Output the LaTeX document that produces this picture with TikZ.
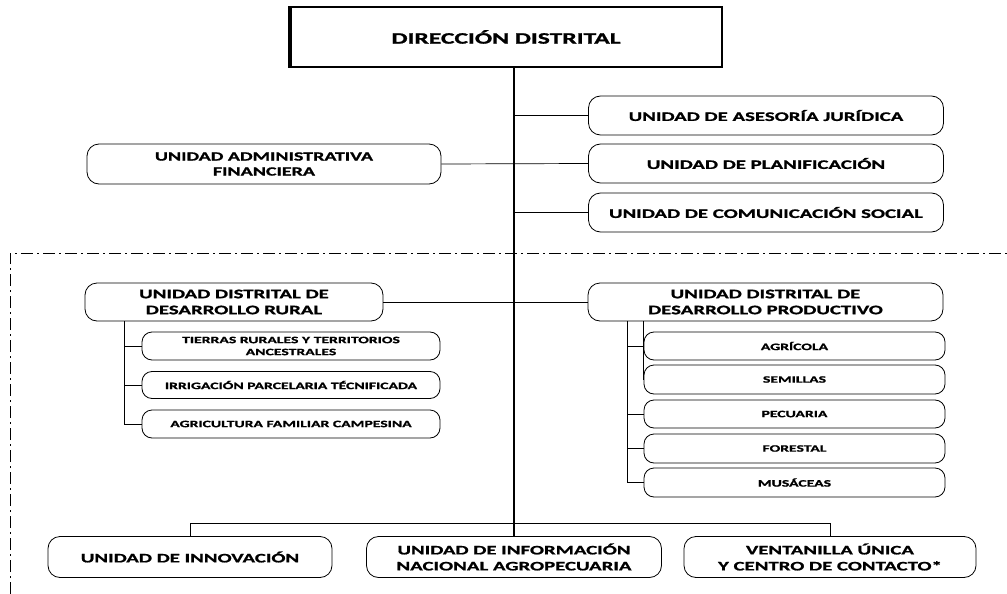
\documentclass[tikz,border=0pt]{standalone}
\usepackage{fontspec}
\setmainfont{Carlito}[FakeStretch=1.6,BoldFeatures={FakeBold=1.2}]
\usepackage{tikz}
\usetikzlibrary{calc}
\tikzset{
  unidad/.style={draw,rounded corners=12pt,align=center,inner sep=0pt,line width=0.8pt,
    font=\bfseries\fontsize{13}{16}\selectfont},
  sub/.style={unidad,rounded corners=10pt,font=\bfseries\fontsize{9.8}{12}\selectfont},
  rama/.style={line width=0.9pt}
}

\begin{document}
\begin{tikzpicture}[x=1pt,y=-1pt]
                      \useasboundingbox (0,0) rectangle (1007,594);
                      \node[draw,line width=1.5pt,minimum width=432pt,minimum height=60pt,font=\bfseries\fontsize{16}{19}\selectfont](dir)at(506,37){DIRECCIÓN DISTRITAL};
                      \draw[line width=4pt] ([xshift=1pt]dir.north west) -- ([xshift=1pt]dir.south west);
                      \node[unidad,minimum width=355pt,minimum height=39pt](ajur)at(766,115.5){UNIDAD DE ASESORÍA JURÍDICA};
                      \node[unidad,minimum width=355pt,minimum height=39pt](plan)at(766,163.5){UNIDAD DE PLANIFICACIÓN};
                      \node[unidad,minimum width=355pt,minimum height=39pt](comu)at(766,212.5){UNIDAD DE COMUNICACIÓN SOCIAL};
                      \node[unidad,minimum width=354pt,minimum height=40pt,font=\bfseries\fontsize{12.5}{15}\selectfont](adfi)at(264,164){UNIDAD ADMINISTRATIVA\\FINANCIERA};
                      \draw[dash pattern=on 12pt off 4pt on 2pt off 4pt,line width=0.9pt] (10,594) -- (10,253) -- (1007,253);
                      \node[unidad,minimum width=298pt,minimum height=38pt](rural)at(234,302){UNIDAD DISTRITAL DE\\DESARROLLO RURAL};
                      \node[unidad,minimum width=355pt,minimum height=38pt](prod)at(765.5,302){UNIDAD DISTRITAL DE\\DESARROLLO PRODUCTIVO};
                      \node[sub,minimum width=298pt,minimum height=28pt](tierras)at(291,346){TIERRAS RURALES Y TERRITORIOS\\ANCESTRALES};
                      \node[sub,minimum width=298pt,minimum height=27pt](irrig)at(291,385){IRRIGACIÓN PARCELARIA TÉCNIFICADA};
                      \node[sub,minimum width=298pt,minimum height=28pt](fami)at(291,424){AGRICULTURA FAMILIAR CAMPESINA};
                      \node[sub,minimum width=301pt,minimum height=28pt](agri)at(794.5,346){AGRÍCOLA};
                      \node[sub,minimum width=301pt,minimum height=29pt](semi)at(794.5,379.5){SEMILLAS};
                      \node[sub,minimum width=301pt,minimum height=28pt](pecu)at(794.5,414){PECUARIA};
                      \node[sub,minimum width=301pt,minimum height=29pt](fore)at(794.5,448.5){FORESTAL};
                      \node[sub,minimum width=301pt,minimum height=29pt](musa)at(794.5,482.5){MUSÁCEAS};
                      \node[unidad,minimum width=284pt,minimum height=41pt](inno)at(190,557){UNIDAD DE INNOVACIÓN};
                      \node[unidad,minimum width=295pt,minimum height=41pt](info)at(514,557){UNIDAD DE INFORMACIÓN\\NACIONAL AGROPECUARIA};
                      \node[unidad,minimum width=292pt,minimum height=41pt](vent)at(830,557){VENTANILLA ÚNICA\\Y CENTRO DE CONTACTO*};
                      \coordinate (bus) at (514,523);
                      \draw[line width=2pt] (dir.south -| info.north) -- (info.north);
                      \draw[line width=0.7pt] (ajur.west) -- (ajur.west -| info.north);
                      \draw[line width=0.7pt] (plan.west) -- (adfi.east);
                      \draw[line width=0.7pt] (comu.west) -- (comu.west -| info.north);
                      \draw[line width=0.7pt] (rural.east) -- (prod.west);
                      \coordinate (rbus) at ([xshift=-17pt]tierras.west |- rural.south);
                      \draw[rama] (rbus) |- (fami.west);
                      \foreach \n in {tierras,irrig} \draw[rama] (\n.west) -- (\n.west -| rbus);
                      \coordinate (pbus) at ([xshift=-16pt]agri.west |- prod.south);
                      \draw[rama] (pbus) |- (musa.west);
                      \draw[rama] (agri.west |- prod.south) -- (semi.west);
                      \foreach \n in {agri,pecu,fore} \draw[rama] (\n.west) -- (\n.west -| pbus);
                      \draw[line width=0.8pt] (inno.north) -- (inno.north |- bus) -- (vent.north |- bus) -- (vent.north);
                  \end{tikzpicture}
\end{document}
